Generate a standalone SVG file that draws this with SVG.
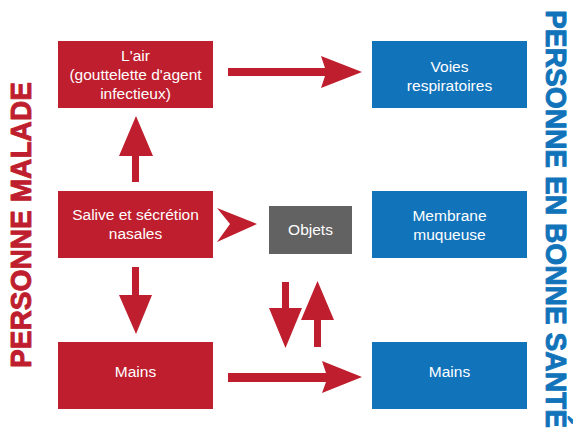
<svg xmlns="http://www.w3.org/2000/svg" width="573" height="435" viewBox="0 0 573 435">
<style>
.red{fill:#BE1E2D}
.blue{fill:#1173BA}
.gray{fill:#626262}
.t{font-family:"Liberation Sans",Arial,sans-serif;font-size:15.5px;fill:#fff;text-anchor:middle}
.side{font-family:"Liberation Sans",Arial,sans-serif;font-size:29px;font-weight:bold;stroke-width:0.9px;stroke-linejoin:round}
.arr{fill:#BE1E2D}
</style>
<rect width="573" height="435" fill="#fff"/>
<text class="side" fill="#BE1E2D" stroke="#BE1E2D" transform="translate(31,368) rotate(-90)" textLength="286" lengthAdjust="spacingAndGlyphs">PERSONNE MALADE</text>
<text class="side" fill="#1173BA" stroke="#1173BA" transform="translate(546,10) rotate(90)" textLength="418" lengthAdjust="spacingAndGlyphs">PERSONNE EN BONNE SANTÉ</text>
<g id="air"><rect class="red" x="58" y="41" width="155" height="67"/><text class="t"><tspan x="135.5" y="61">L'air</tspan><tspan x="135.5" y="80">(gouttelette d'agent</tspan><tspan x="135.5" y="99">infectieux)</tspan></text></g>
<g id="salive"><rect class="red" x="58" y="191" width="155" height="67"/><text class="t"><tspan x="135.5" y="220">Salive et sécrétion</tspan><tspan x="135.5" y="239">nasales</tspan></text></g>
<g id="mains-malade"><rect class="red" x="58" y="342" width="155" height="67"/><text class="t" x="135.5" y="377">Mains</text></g>
<g id="objets"><rect class="gray" x="269" y="206" width="83" height="48"/><text class="t" x="310.5" y="235">Objets</text></g>
<g id="voies"><rect class="blue" x="372" y="41" width="155" height="67"/><text class="t"><tspan x="449.5" y="72">Voies</tspan><tspan x="449.5" y="91">respiratoires</tspan></text></g>
<g id="membrane"><rect class="blue" x="372" y="191" width="155" height="67"/><text class="t"><tspan x="449.5" y="221">Membrane</tspan><tspan x="449.5" y="240">muqueuse</tspan></text></g>
<g id="mains-sante"><rect class="blue" x="372" y="342" width="155" height="67"/><text class="t" x="449.5" y="377">Mains</text></g>
<g id="connectors">
<polygon class="arr" points="228,68 325,68 321,56 362,72 321,88 325,76 228,76"/>
<polygon class="arr" points="132,182 132,156 119,156 136,116 153,156 139,156 139,182"/>
<polygon class="arr" points="217,208 257,224 217,242 230,224"/>
<polygon class="arr" points="132,267 139,267 139,295 152,295 136,334 119,295 132,295"/>
<polygon class="arr" points="282,282 289,282 289,308 302,308 285.5,348 269,308 282,308"/>
<polygon class="arr" points="314,347 321,347 321,320 334,320 317.5,281 301,320 314,320"/>
<polygon class="arr" points="228,373 326,373 322,361 362,377 322,393 326,382 228,382"/>
</g>
</svg>
